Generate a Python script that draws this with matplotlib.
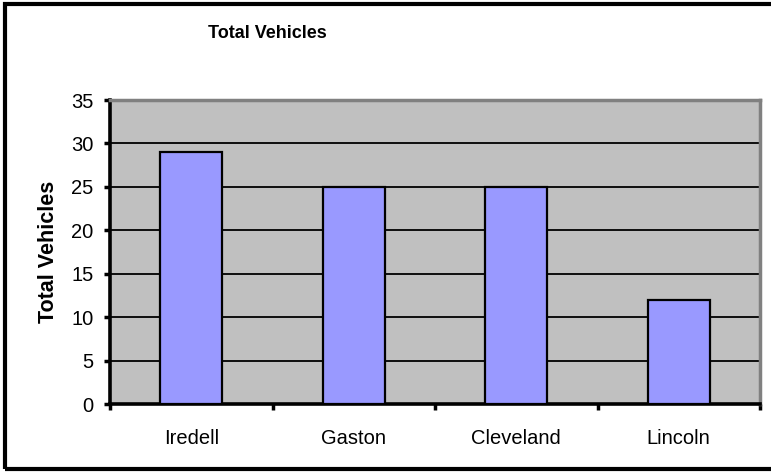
import matplotlib.pyplot as plt
from matplotlib.patches import Rectangle

counties = ['Iredell', 'Gaston', 'Cleveland', 'Lincoln']
vehicles = [29, 25, 25, 12]
y_ticks = [0, 5, 10, 15, 20, 25, 30, 35]

plt.rcParams['font.family'] = ['Liberation Sans', 'DejaVu Sans']

fig = plt.figure(figsize=(7.71, 4.73), dpi=100)
ax = fig.add_axes([110 / 771, 1 - 404 / 473, 650 / 771, 304 / 473])

ax.set_facecolor('#C0C0C0')
ax.bar(range(len(counties)), vehicles, width=0.38, color='#9999FF',
       edgecolor='black', linewidth=1.6, zorder=3)

ax.set_xlim(-0.5, len(counties) - 0.5)
ax.set_ylim(0, 35)
ax.set_yticks(y_ticks)
ax.yaxis.grid(True, color='black', linewidth=1.3, zorder=1)
ax.set_axisbelow(True)

# category labels at centres, tick marks at boundaries
ax.set_xticks(range(len(counties)))
ax.set_xticklabels(counties)
ax.set_xticks([i - 0.5 for i in range(len(counties) + 1)], minor=True)
ax.tick_params(axis='x', which='major', length=0, pad=18, labelsize=14.5)
ax.tick_params(axis='x', which='minor', length=4, width=2.5, direction='out')
ax.tick_params(axis='y', length=4, width=2.5, pad=8, labelsize=14.5)

for side in ['left', 'bottom']:
    ax.spines[side].set_linewidth(2.6)
    ax.spines[side].set_color('black')
for side in ['top', 'right']:
    ax.spines[side].set_linewidth(2.5)
    ax.spines[side].set_color('#808080')

ax.set_ylabel('Total Vehicles', fontsize=15.5, fontweight='bold')
ax.yaxis.set_label_coords(-0.078, 0.5)

fig.text(267 / 771, 1 - 33 / 473, 'Total Vehicles', ha='center', va='center',
         fontsize=13, fontweight='bold')

# outer chart border (runs off the right edge)
fig.patches.append(Rectangle((5 / 771, 4 / 473), 1.0, 465 / 473,
                             transform=fig.transFigure, fill=False,
                             edgecolor='black', linewidth=3, zorder=10))

fig.savefig('out.png', dpi=100)
